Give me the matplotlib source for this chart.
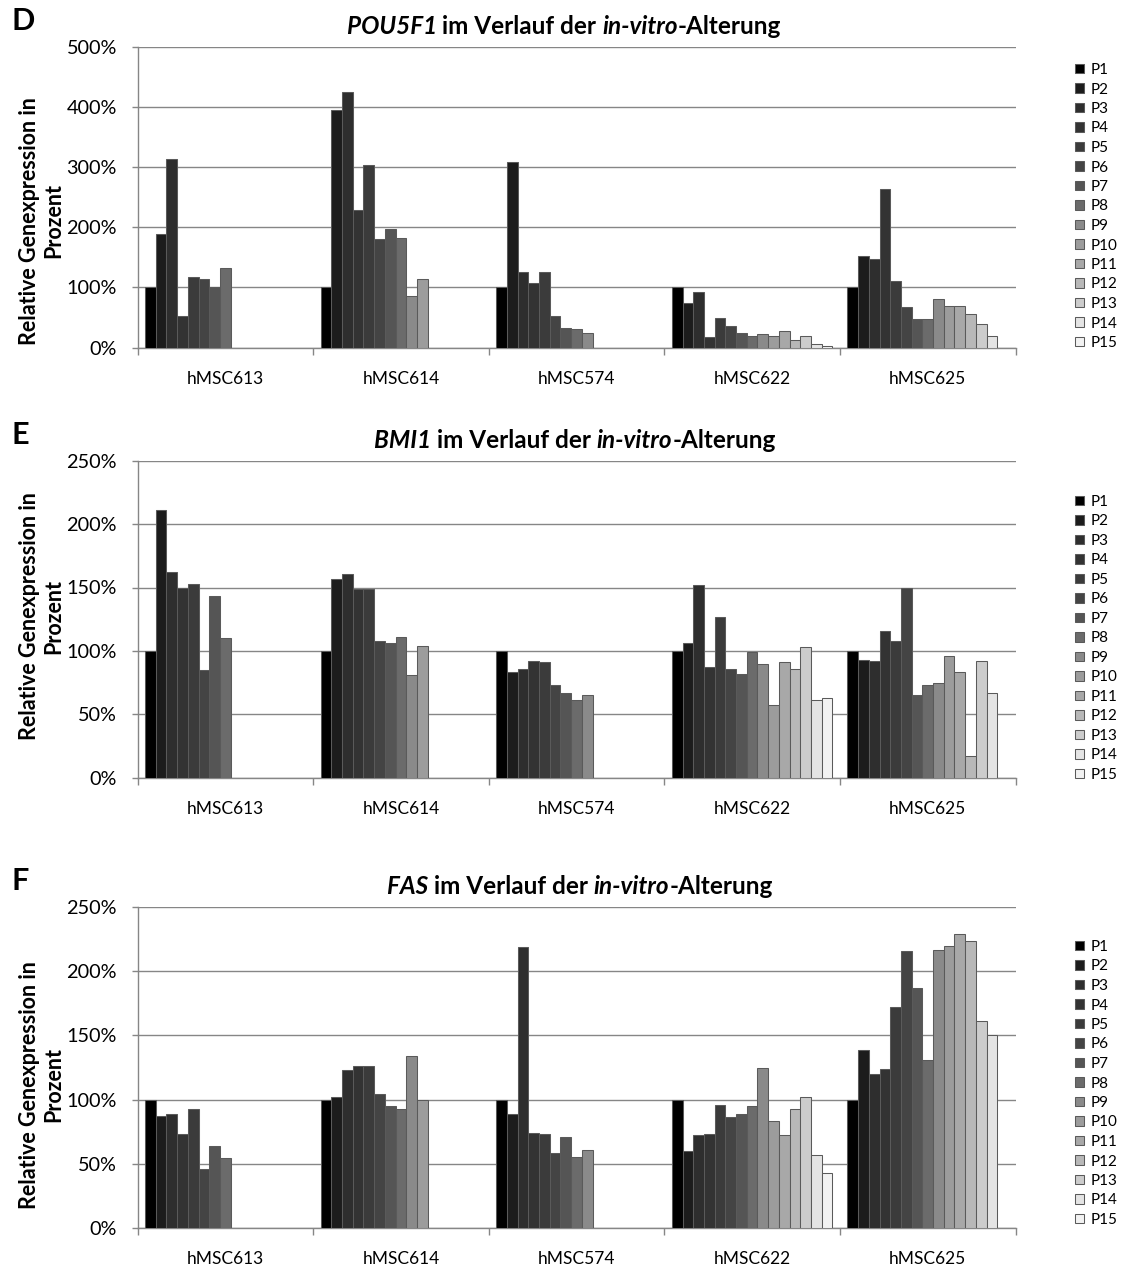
import numpy as np
import matplotlib
matplotlib.use('Agg')
import matplotlib.pyplot as plt

plt.rcParams['font.family'] = ['Lato', 'DejaVu Sans']

# Zelllinien und Passagen
zelllinien = ['hMSC613', 'hMSC614', 'hMSC574', 'hMSC622', 'hMSC625']
passagen = ['P%d' % i for i in range(1, 16)]
farben = ['#000000', '#1c1c1c', '#2e2e2e', '#333333', '#3b3b3b', '#444444', '#555555',
          '#6b6b6b', '#8a8a8a', '#9c9c9c', '#a8a8a8', '#b8b8b8', '#cccccc', '#e4e4e4', '#f2f2f2']

# POU5F1, relative Expression in %
pou_613 = [100, 189, 314, 53, 117, 114, 101, 133]
pou_614 = [100, 395, 424, 228, 303, 181, 198, 183, 86, 114]
pou_574 = [100, 308, 125, 108, 125, 53, 33, 31, 25]
pou_622 = [100, 75, 92, 17, 50, 36, 25, 19, 22, 19, 28, 13, 19, 6, 3]
pou_625 = [100, 153, 147, 264, 111, 67, 47, 47, 81, 69, 69, 56, 39, 19]

# BMI1
bmi_613 = [100, 211, 162, 150, 153, 85, 143, 110]
bmi_614 = [100, 157, 161, 149, 149, 108, 106, 111, 81, 104]
bmi_574 = [100, 83, 86, 92, 91, 73, 67, 61, 65]
bmi_622 = [100, 106, 152, 87, 127, 86, 82, 99, 90, 57, 91, 86, 103, 61, 63]
bmi_625 = [100, 93, 92, 116, 108, 150, 65, 73, 75, 96, 83, 17, 92, 67]

# FAS
fas_613 = [100, 87, 89, 73, 93, 46, 64, 54]
fas_614 = [100, 102, 123, 126, 126, 104, 95, 93, 134, 100]
fas_574 = [100, 89, 219, 74, 73, 58, 71, 55, 61]
fas_622 = [100, 60, 72, 73, 96, 86, 89, 95, 125, 83, 72, 93, 102, 57, 43]
fas_625 = [100, 139, 120, 124, 172, 216, 187, 131, 217, 220, 229, 224, 161, 150]

W, H = 1128, 1272
fig = plt.figure(figsize=(W / 100, H / 100), dpi=100)
r = fig.canvas.get_renderer()

grau = '#868686'
n = 15
gap = 1.4
bw = 1 / (n + gap)


def fx(px):
    return px / W


def fy(py):
    return 1 - py / H


def breite(s, **kw):
    # Breite inkl. Leerzeichen am Ende
    t1 = fig.text(0, 0, s + '|', **kw)
    t2 = fig.text(0, 0, '|', **kw)
    b = t1.get_window_extent(r).width - t2.get_window_extent(r).width
    t1.remove()
    t2.remove()
    return b


def titel(teile, xc, yc):
    kw = dict(fontsize=17.5, fontweight='bold')
    bs = [breite(s, style=st, **kw) for s, st in teile]
    x = xc - sum(bs) / 2
    for (s, st), b in zip(teile, bs):
        fig.text(fx(x), fy(yc), s, style=st, ha='left', va='center', **kw)
        x += b


def panel(buchstabe, gen, daten, ymax, schritt, oben, unten, tx, ty, ly, leg_oben):
    ax = fig.add_axes([fx(137.5), fy(unten), fx(1015.5 - 137.5), (unten - oben) / H])
    for j in range(n):
        xs, hs = [], []
        for i, werte in enumerate(daten):
            if j < len(werte):
                xs.append(i - 0.5 + gap * bw / 2 + (j + 0.5) * bw)
                hs.append(werte[j])
        ax.bar(xs, hs, width=bw, color=farben[j], edgecolor='#5a5a5a',
               linewidth=0.75, label=passagen[j], zorder=3)
    ax.set_xlim(-0.5, 4.5)
    ax.set_ylim(0, ymax)
    ax.set_yticks(np.arange(0, ymax + 1, schritt))
    ax.set_yticklabels(['%d%%' % v for v in np.arange(0, ymax + 1, schritt)])
    ax.set_xticks(np.arange(-0.5, 5, 1))
    ax.set_xticklabels([])
    ax.set_xticks(range(5), minor=True)
    ax.set_xticklabels(zelllinien, minor=True)
    ax.tick_params(axis='x', which='major', length=5, color=grau, width=1)
    ax.tick_params(axis='x', which='minor', length=0, pad=17, labelsize=12.5)
    ax.tick_params(axis='y', length=4, color=grau, width=1, pad=10.8, labelsize=14.3)
    ax.yaxis.grid(True, color=grau, linewidth=1)
    ax.set_axisbelow(True)
    for s in ['top', 'right']:
        ax.spines[s].set_visible(False)
    for s in ['left', 'bottom']:
        ax.spines[s].set_color(grau)
        ax.spines[s].set_linewidth(1)

    fig.text(fx(12), fy(ty - 6), buchstabe, fontsize=22, fontweight='bold', va='center')
    titel([(gen + ' ', 'italic'), ('im Verlauf der ', 'normal'),
           ('in-vitro', 'italic'), ('-Alterung', 'normal')], tx, ty)
    fig.text(fx(42), fy(ly), 'Relative Genexpression in\nProzent', rotation=90,
             ha='center', va='center', multialignment='center',
             fontsize=15.5, fontweight='bold', linespacing=1.2)
    ax.legend(loc='upper left', bbox_to_anchor=(fx(1075), fy(leg_oben)),
              bbox_transform=fig.transFigure, frameon=False, fontsize=11,
              handlelength=0.6, handleheight=0.6, handletextpad=0.45,
              labelspacing=0.36, borderpad=0, borderaxespad=0)
    return ax


panel('D', 'POU5F1', [pou_613, pou_614, pou_574, pou_622, pou_625], 500, 100,
      46.7, 347.7, 564, 27, 221, 63)
panel('E', 'BMI1', [bmi_613, bmi_614, bmi_574, bmi_622, bmi_625], 250, 50,
      460.7, 777.7, 575, 441, 616, 495)
panel('F', 'FAS', [fas_613, fas_614, fas_574, fas_622, fas_625], 250, 50,
      907.3, 1227.7, 580, 887, 1085, 940)

fig.savefig('out.png', dpi=100)
